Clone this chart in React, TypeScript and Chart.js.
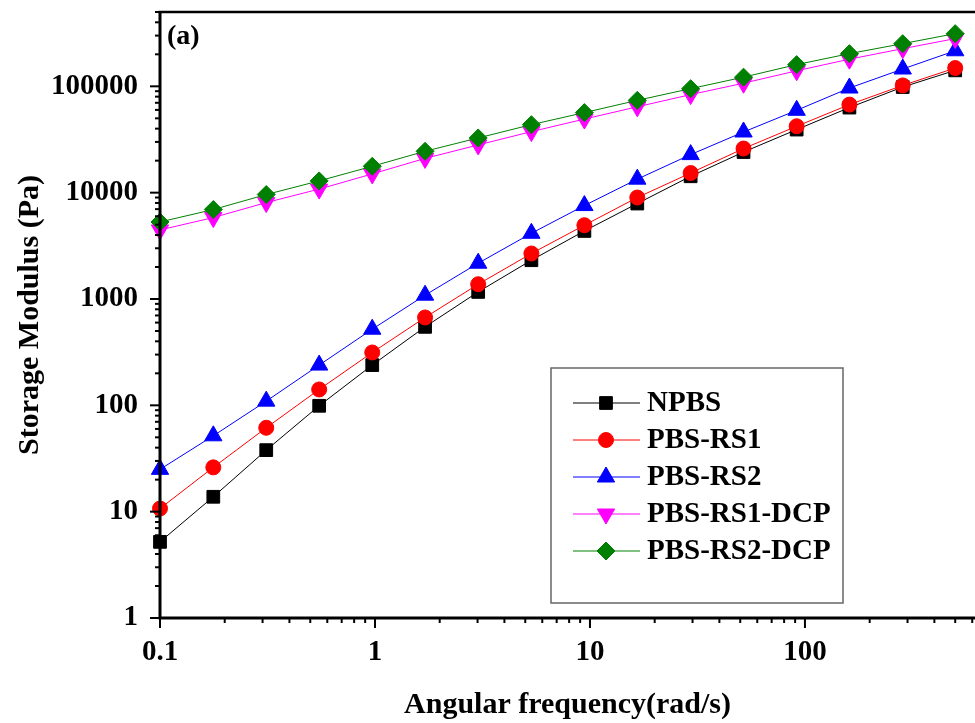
import { useEffect, useRef } from 'react';
import { Chart, registerables } from 'chart.js';
import { drawPoint } from 'chart.js/helpers';

Chart.register(...registerables);

const FREQ = [0.1, 0.177, 0.312, 0.55, 0.971, 1.71, 3.02, 5.34, 9.42, 16.6, 29.4, 51.8, 91.5, 161, 285, 500];
const NPBS = [5.2, 13.8, 37.9, 99, 239, 547, 1166, 2316, 4365, 7900, 14260, 24100, 39200, 63100, 98500, 141300];
const PBS_RS1 = [10.7, 26.1, 61.5, 141, 314, 670, 1377, 2678, 4940, 9000, 15300, 26000, 42100, 67300, 102000, 148600];
const PBS_RS2 = [25, 51.7, 109.5, 239, 520, 1086, 2170, 4150, 7560, 13400, 22800, 37200, 59500, 96400, 145500, 216000];
const PBS_RS1_DCP = [4460, 5830, 8070, 10800, 15000, 21000, 28100, 37500, 49200, 64200, 83600, 107000, 140000, 180000, 226000, 281000];
const PBS_RS2_DCP = [5300, 6940, 9600, 12900, 17700, 24500, 32700, 43600, 56600, 73800, 95100, 122000, 160000, 203000, 252000, 313000];

const SERIES_NAMES = ['NPBS', 'PBS-RS1', 'PBS-RS2', 'PBS-RS1-DCP', 'PBS-RS2-DCP'];
const X_TICKS = [0.1, 1, 10, 100];
const Y_TICKS = [1, 10, 100, 1000, 10000, 100000];
const X_RANGE = [0.1, 618];
const Y_RANGE = [1, 500000];

const FONT = "'Liberation Serif', 'Times New Roman', serif";

const pts = (ys: number[]) => FREQ.map((x, i) => ({ x, y: ys[i] }));

const zeroPad = (s: any) => {
  s.paddingTop = 0;
  s.paddingBottom = 0;
  s.paddingLeft = 0;
  s.paddingRight = 0;
};

const axesPlugin = {
  id: 'originAxes',
  afterDraw(chart: any) {
    const { ctx, chartArea: a, scales } = chart;
    const xs = scales.x;
    const ys = scales.y;
    ctx.save();
    ctx.strokeStyle = '#000';
    ctx.lineCap = 'butt';
    ctx.lineWidth = 2.5;
    ctx.beginPath();
    ctx.moveTo(a.left - 1.5, a.top);
    ctx.lineTo(a.right, a.top);
    ctx.stroke();
    ctx.lineWidth = 3;
    ctx.beginPath();
    ctx.moveTo(a.left, a.top - 1);
    ctx.lineTo(a.left, a.bottom + 1.5);
    ctx.moveTo(a.left - 1.5, a.bottom);
    ctx.lineTo(a.right, a.bottom);
    ctx.stroke();
    ctx.lineWidth = 2;
    for (let e = -1; e <= 3; e++) {
      for (let m = 1; m <= 9; m++) {
        const v = m * Math.pow(10, e);
        if (v < X_RANGE[0] - 1e-9 || v > X_RANGE[1]) continue;
        const px = xs.getPixelForValue(v);
        const len = m === 1 ? 10 : 5;
        ctx.beginPath();
        ctx.moveTo(px, a.bottom);
        ctx.lineTo(px, a.bottom + len);
        ctx.stroke();
      }
    }
    for (let e = 0; e <= 5; e++) {
      for (let m = 1; m <= 9; m++) {
        const v = m * Math.pow(10, e);
        if (v < Y_RANGE[0] - 1e-9 || v > Y_RANGE[1]) continue;
        const py = ys.getPixelForValue(v);
        const len = m === 1 ? 10 : 5;
        ctx.beginPath();
        ctx.moveTo(a.left, py);
        ctx.lineTo(a.left - len, py);
        ctx.stroke();
      }
    }
    ctx.fillStyle = '#000';
    ctx.font = `bold 30px ${FONT}`;
    ctx.textAlign = 'center';
    ctx.textBaseline = 'middle';
    ctx.fillText('Angular frequency(rad/s)', (a.left + a.right) / 2, 705);
    ctx.save();
    ctx.translate(30, 315);
    ctx.rotate(-Math.PI / 2);
    ctx.fillText('Storage Modulus (Pa)', 0, 0);
    ctx.restore();
    ctx.font = `bold 28px ${FONT}`;
    ctx.textAlign = 'left';
    ctx.fillText('(a)', a.left + 7, 37);
    ctx.restore();
  },
};

const legendPlugin = {
  id: 'boxLegend',
  afterDraw(chart: any) {
    const { ctx } = chart;
    ctx.save();
    ctx.strokeStyle = '#666';
    ctx.lineWidth = 1.5;
    ctx.strokeRect(551, 368, 292, 235);
    chart.data.datasets.forEach((ds: any, i: number) => {
      const cy = 403 + i * 37;
      ctx.strokeStyle = ds.borderColor;
      ctx.lineWidth = 1;
      ctx.beginPath();
      ctx.moveTo(573, cy);
      ctx.lineTo(640, cy);
      ctx.stroke();
      ctx.fillStyle = ds.pointBackgroundColor;
      ctx.strokeStyle = ds.pointBorderColor;
      drawPoint(ctx, { pointStyle: ds.pointStyle, rotation: ds.pointRotation || 0, radius: ds.pointRadius, borderWidth: 1 }, 606, cy);
      ctx.fillStyle = '#000';
      ctx.font = `bold 29px ${FONT}`;
      ctx.textAlign = 'left';
      ctx.textBaseline = 'middle';
      ctx.fillText(ds.label, 647, cy + 1);
    });
    ctx.restore();
  },
};

function mk(label: string, ys: number[], color: string, style: string, radius: number, order: number, rotation = 0) {
  return {
    label,
    data: pts(ys),
    showLine: true,
    borderColor: color,
    backgroundColor: color,
    borderWidth: 1,
    pointBackgroundColor: color,
    pointBorderColor: color,
    pointBorderWidth: 1,
    pointStyle: style,
    pointRotation: rotation,
    pointRadius: radius,
    pointHoverRadius: radius,
    order,
    clip: false,
  };
}

export default function App() {
  const ref = useRef<HTMLCanvasElement | null>(null);
  useEffect(() => {
    if (!ref.current) return;
    const chart = new Chart(ref.current, {
      type: 'scatter',
      data: {
        datasets: [
          mk(SERIES_NAMES[0], NPBS, '#000000', 'rect', 9, 5),
          mk(SERIES_NAMES[1], PBS_RS1, '#ff0000', 'circle', 7.5, 4),
          mk(SERIES_NAMES[2], PBS_RS2, '#0000ff', 'triangle', 10, 3),
          mk(SERIES_NAMES[3], PBS_RS1_DCP, '#ff00ff', 'triangle', 10, 2, 180),
          mk(SERIES_NAMES[4], PBS_RS2_DCP, '#008000', 'rectRot', 9, 1),
        ] as any,
      },
      options: {
        animation: false,
        responsive: true,
        maintainAspectRatio: false,
        layout: { autoPadding: false, padding: { top: 12, left: 0, right: 0, bottom: 0 } },
        plugins: { legend: { display: false }, tooltip: { enabled: false } },
        scales: {
          x: {
            type: 'logarithmic',
            position: 'bottom',
            min: X_RANGE[0],
            max: X_RANGE[1],
            grid: { display: false, drawTicks: false },
            border: { display: false },
            afterBuildTicks: (s: any) => { s.ticks = X_TICKS.map((v) => ({ value: v, major: true })); },
            afterFit: (s: any) => { s.height = 105; zeroPad(s); },
            ticks: {
              autoSkip: false,
              maxRotation: 0,
              padding: 17,
              color: '#000',
              font: { family: FONT, size: 29, weight: 'bold' },
              callback: (v: any) => String(v),
            },
          },
          y: {
            type: 'logarithmic',
            position: 'left',
            min: Y_RANGE[0],
            max: Y_RANGE[1],
            grid: { display: false, drawTicks: false },
            border: { display: false },
            afterBuildTicks: (s: any) => { s.ticks = Y_TICKS.map((v) => ({ value: v, major: true })); },
            afterFit: (s: any) => { s.width = 160; zeroPad(s); },
            ticks: {
              autoSkip: false,
              padding: 22,
              color: '#000',
              font: { family: FONT, size: 29, weight: 'bold' },
              callback: (v: any) => String(v),
            },
          },
        },
      } as any,
      plugins: [axesPlugin, legendPlugin],
    });
    return () => chart.destroy();
  }, []);
  return (
    <div style={{ position: 'fixed', left: 0, top: 0, width: 975, height: 723, background: '#fff' }}>
      <canvas ref={ref} />
    </div>
  );
}
